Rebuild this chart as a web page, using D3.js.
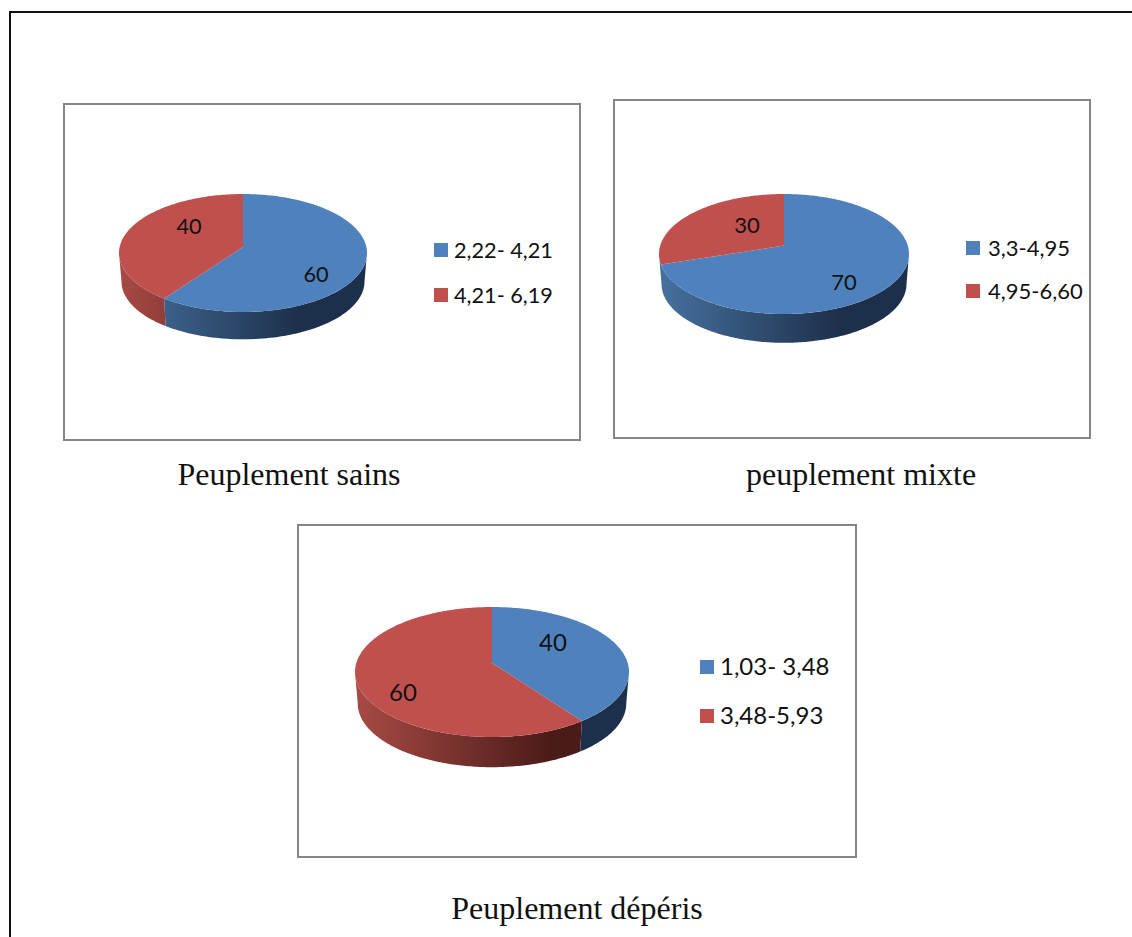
<!DOCTYPE html>
<html>
<head>
<meta charset="utf-8">
<script src="https://d3js.org/d3.v7.min.js"></script>
<style>
  html, body { margin: 0; padding: 0; background: #fff; overflow: hidden; }
  svg { display: block; }
  .cadre { fill: #fff; stroke: #868686; stroke-width: 2; }
  .legende, .valeur { font-family: Lato, sans-serif; fill: #111; }
  .titre { font-family: "Liberation Serif", serif; font-size: 32px; fill: #111; }
</style>
</head>
<body>
<script>
"use strict"

var categories = ["classe 1", "classe 2"];
var valeursSains = [60, 40];
var valeursMixte = [70, 30];
var valeursDeperis = [40, 60];
var legendeSains = ["2,22- 4,21", "4,21- 6,19"];
var legendeMixte = ["3,3-4,95", "4,95-6,60"];
var legendeDeperis = ["1,03- 3,48", "3,48-5,93"];
var titres = ["Peuplement sains", "peuplement mixte", "Peuplement dépéris"];

var couleurs = ["#4f81bd", "#c0504d"];
// degrade du flanc : clair a gauche, sombre a droite
var flancs = [["#46719f", "#1d304b"], ["#a84a44", "#4a1b19"]];

var svg = d3.select("body").append("svg")
  .attr("width", 1132).attr("height", 937);

var defs = svg.append("defs");

// cadre de la page
svg.append("path")
  .attr("d", "M10,937V12H1132")
  .attr("fill", "none").attr("stroke", "#111").attr("stroke-width", 2);

var couleur = d3.scaleOrdinal().domain(categories).range(couleurs);

function dessineCamembert(id, valeurs, legende, titre, p) {
  var g = svg.append("g");

  g.append("rect").attr("class", "cadre")
    .attr("x", p.cadre[0]).attr("y", p.cadre[1])
    .attr("width", p.cadre[2]).attr("height", p.cadre[3]);

  var arcs = d3.pie().sort(null).value(function(d) { return d; })(valeurs);

  // perspective : le centre du disque remonte, les angles se deforment
  function angleVu(t) {
    var u = Math.sin(t), v = -Math.cos(t), a = p.decal;
    var v2 = (v - a) / (1 - a * v);
    var u2 = u * Math.sqrt(1 - a * a) / (1 - a * v);
    var r = Math.atan2(u2, -v2);
    return r < -1e-6 ? r + 2 * Math.PI : r;
  }
  function sommet(phi, h) {
    var k = 1 - p.fuite * h;
    return [p.cx + p.rx * k * Math.sin(phi), p.cy - p.ry * k * Math.cos(phi) + h * p.prof];
  }
  function pas(a, b) {
    var n = Math.max(2, Math.ceil((b - a) * 60));
    return d3.range(n + 1).map(function(i) { return a + (b - a) * i / n; });
  }
  var ligne = d3.line();
  var gauche = 3 * Math.PI / 2, droite = Math.PI / 2;

  arcs.forEach(function(d, i) {
    var a0 = angleVu(d.startAngle);
    var a1 = i === arcs.length - 1 ? 2 * Math.PI : angleVu(d.endAngle);
    d.vu0 = a0; d.vu1 = a1;

    var grad = defs.append("linearGradient").attr("id", id + "-g" + i)
      .attr("gradientUnits", "userSpaceOnUse")
      .attr("x1", p.cx - p.rx).attr("x2", p.cx + p.rx).attr("y1", 0).attr("y2", 0);
    grad.append("stop").attr("offset", 0).attr("stop-color", flancs[i][0]);
    grad.append("stop").attr("offset", 0.72).attr("stop-color", flancs[i][1]);
    grad.append("stop").attr("offset", 1).attr("stop-color", flancs[i][1]);

    // flanc : seulement la moitie avant du disque
    var debut = Math.max(a0, droite), fin = Math.min(a1, gauche);
    // une tranche qui finit presque au bord gauche prend tout le flanc
    if (gauche - fin < 0.25) fin = gauche;
    if (fin - debut > 0.25) {
      var haut = pas(debut, fin).map(function(t) { return sommet(t, 0); });
      var bas = pas(debut, fin).reverse().map(function(t) { return sommet(t, 1); });
      g.append("path").attr("d", ligne(haut.concat(bas)) + "Z")
        .attr("fill", "url(#" + id + "-g" + i + ")");
    }
  });

  arcs.forEach(function(d, i) {
    var contour = [[p.cx, p.cy - p.ry * p.decal]]
      .concat(pas(d.vu0, d.vu1).map(function(t) { return sommet(t, 0); }));
    g.append("path").attr("d", ligne(contour) + "Z")
      .attr("fill", couleur(categories[i]));
  });

  g.selectAll(".valeur").data(valeurs).enter().append("text")
    .attr("class", "valeur")
    .attr("text-anchor", "middle")
    .style("font-size", p.corps + "px")
    .attr("x", function(d, i) { return p.etiq[i][0]; })
    .attr("y", function(d, i) { return p.etiq[i][1]; })
    .text(function(d) { return d; });

  var yLeg = d3.scalePoint().domain(categories).range(p.legY);
  categories.forEach(function(c, i) {
    g.append("rect")
      .attr("x", p.legX).attr("y", yLeg(c) - 7)
      .attr("width", 14).attr("height", 14)
      .attr("fill", couleur(c));
    g.append("text").attr("class", "legende")
      .style("font-size", p.corps + "px")
      .attr("x", p.legTexte).attr("y", yLeg(c) + 8)
      .text(legende[i]);
  });

  g.append("text").attr("class", "titre")
    .attr("text-anchor", "middle")
    .attr("x", p.titre[0]).attr("y", p.titre[1])
    .text(titre);
}

dessineCamembert("sains", valeursSains, legendeSains, titres[0], {
  cadre: [64, 104, 516, 336], cx: 243, cy: 253, rx: 124, ry: 59, prof: 28.5, decal: 0.1, fuite: 0.02, corps: 21.7,
  etiq: [[316, 282], [189, 234]], legX: 434, legTexte: 454, legY: [250, 295], titre: [289, 485]
});
dessineCamembert("mixte", valeursMixte, legendeMixte, titres[1], {
  cadre: [614, 100, 476, 338], cx: 784, cy: 254, rx: 125, ry: 60, prof: 30, decal: 0.14, fuite: 0.02, corps: 22,
  etiq: [[844, 290], [747, 233]], legX: 966, legTexte: 988, legY: [248, 291], titre: [861, 485]
});
dessineCamembert("deperis", valeursDeperis, legendeDeperis, titres[2], {
  cadre: [298, 525, 558, 332], cx: 492, cy: 672, rx: 137, ry: 65, prof: 31.5, decal: 0.14, fuite: 0.02, corps: 24,
  etiq: [[553, 651], [403, 701]], legX: 700, legTexte: 720, legY: [667, 716], titre: [577, 919]
});
</script>
</body>
</html>
